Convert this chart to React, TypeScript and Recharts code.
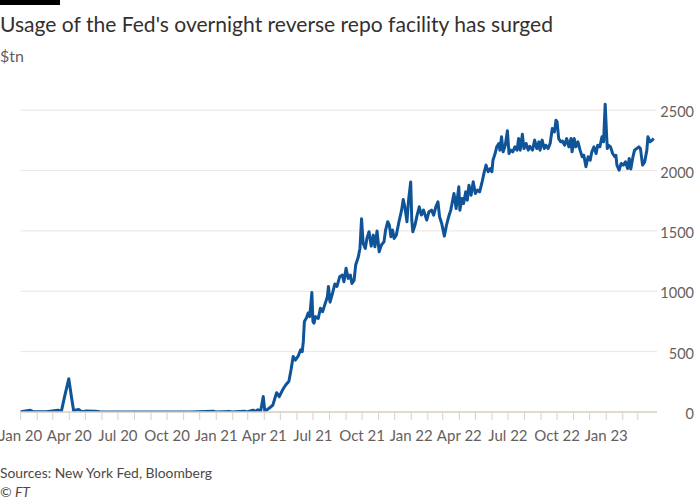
import React from "react";
import { LineChart, Line, XAxis, YAxis, CartesianGrid } from "recharts";

const dates: string[] = [
  "2020-01-01","2020-01-19","2020-01-24","2020-02-18","2020-03-11","2020-03-17","2020-03-23","2020-03-31","2020-04-05","2020-04-09",
  "2020-04-19","2020-04-24","2020-05-03","2020-05-19","2020-05-28","2020-07-01","2020-08-15","2020-10-01","2020-11-15","2020-12-26",
  "2020-12-31","2021-01-26","2021-01-30","2021-02-23","2021-02-27","2021-03-11","2021-03-16","2021-03-20","2021-03-25","2021-03-30",
  "2021-04-02","2021-04-11","2021-04-17","2021-04-24","2021-04-29","2021-05-05","2021-05-11","2021-05-17","2021-05-21","2021-05-25",
  "2021-05-29","2021-06-03","2021-06-08","2021-06-11","2021-06-13","2021-06-15","2021-06-19","2021-06-22","2021-06-25","2021-06-29",
  "2021-07-01","2021-07-03","2021-07-06","2021-07-11","2021-07-15","2021-07-19","2021-07-23","2021-07-28","2021-07-30","2021-08-02",
  "2021-08-07","2021-08-11","2021-08-15","2021-08-20","2021-08-25","2021-08-28","2021-09-01","2021-09-05","2021-09-09","2021-09-12",
  "2021-09-16","2021-09-19","2021-09-24","2021-09-27","2021-09-30","2021-10-03","2021-10-07","2021-10-10","2021-10-14","2021-10-18",
  "2021-10-22","2021-10-25","2021-10-29","2021-11-02","2021-11-06","2021-11-11","2021-11-14","2021-11-18","2021-11-21","2021-11-24",
  "2021-11-27","2021-11-30","2021-12-04","2021-12-09","2021-12-14","2021-12-17","2021-12-20","2021-12-24","2021-12-27","2021-12-31",
  "2022-01-02","2022-01-04","2022-01-08","2022-01-12","2022-01-16","2022-01-20","2022-01-24","2022-01-30","2022-02-03","2022-02-08",
  "2022-02-12","2022-02-16","2022-02-20","2022-02-23","2022-02-27","2022-03-04","2022-03-08","2022-03-12","2022-03-16","2022-03-19",
  "2022-03-22","2022-03-26","2022-03-31","2022-04-02","2022-04-06","2022-04-09","2022-04-13","2022-04-16","2022-04-19","2022-04-23",
  "2022-04-27","2022-05-01","2022-05-05","2022-05-09","2022-05-13","2022-05-17","2022-05-21","2022-05-25","2022-05-29","2022-06-01",
  "2022-06-03","2022-06-07","2022-06-10","2022-06-14","2022-06-16","2022-06-19","2022-06-22","2022-06-26","2022-06-30","2022-07-03",
  "2022-07-06","2022-07-10","2022-07-14","2022-07-18","2022-07-21","2022-07-24","2022-07-28","2022-07-31","2022-08-04","2022-08-08",
  "2022-08-11","2022-08-16","2022-08-20","2022-08-24","2022-08-28","2022-08-30","2022-09-03","2022-09-07","2022-09-10","2022-09-14",
  "2022-09-18","2022-09-22","2022-09-26","2022-09-29","2022-10-01","2022-10-04","2022-10-08","2022-10-11","2022-10-15","2022-10-19",
  "2022-10-23","2022-10-27","2022-10-29","2022-11-02","2022-11-05","2022-11-09","2022-11-13","2022-11-17","2022-11-20","2022-11-24",
  "2022-11-28","2022-12-02","2022-12-05","2022-12-09","2022-12-13","2022-12-16","2022-12-20","2022-12-24","2022-12-27","2022-12-30",
  "2023-01-02","2023-01-03","2023-01-05","2023-01-09","2023-01-13","2023-01-17","2023-01-19","2023-01-21","2023-01-25","2023-01-29",
  "2023-02-02","2023-02-06","2023-02-10","2023-02-13","2023-02-16","2023-02-20","2023-02-23","2023-02-27","2023-03-03","2023-03-06",
  "2023-03-10","2023-03-14","2023-03-18","2023-03-20","2023-03-24","2023-03-28","2023-03-31"
];

const values: number[] = [
  2,14,3,3,15,3,125,275,125,12,
  20,3,8,7,2,1,0,1,0,7,
  1,5,1,6,1,15,6,18,4,128,
  5,35,58,160,127,182,224,255,350,460,
  430,460,515,500,585,750,780,820,790,990,
  750,735,790,775,860,830,885,955,1040,910,
  990,1060,1040,1120,1134,1079,1190,1107,1134,1065,
  1090,1217,1286,1355,1600,1397,1355,1438,1493,1374,
  1465,1368,1500,1327,1382,1410,1507,1576,1548,1452,
  1507,1438,1465,1576,1672,1760,1700,1576,1755,1905,
  1590,1493,1548,1631,1700,1631,1672,1590,1658,1672,
  1630,1700,1741,1617,1562,1457,1548,1617,1672,1741,
  1810,1686,1865,1672,1769,1727,1824,1755,1879,1796,
  1907,1810,1838,1824,1893,1976,2045,1990,2017,1990,
  2086,2141,2196,2224,2169,2279,2155,2210,2329,2141,
  2169,2155,2196,2169,2265,2169,2301,2182,2224,2169,
  2200,2169,2252,2182,2238,2169,2252,2182,2210,2182,
  2224,2348,2320,2417,2403,2265,2238,2245,2210,2265,
  2196,2265,2155,2265,2196,2238,2169,2114,2127,2031,
  2114,2086,2155,2196,2141,2210,2196,2279,2238,2550,
  2265,2182,2210,2196,2141,2114,2127,2045,2003,2058,
  2045,2072,2017,2100,2012,2114,2169,2182,2196,2182,
  2045,2072,2169,2279,2238,2252,2265
];

const quarterLabels: string[] = [
  "Jan 20","Apr 20","Jul 20","Oct 20","Jan 21","Apr 21","Jul 21","Oct 21","Jan 22","Apr 22","Jul 22","Oct 22","Jan 23"
];
const yTicks: number[] = [0, 500, 1000, 1500, 2000, 2500];

const domainStart = "2020-01-01";
const domainEnd = "2023-04-06";

const data = dates.map((d, i) => ({ t: Date.parse(d), v: values[i] }));

const monthTicks: number[] = [];
for (let y = 2020; y <= 2023; y++) {
  for (let m = 0; m < 12; m++) {
    if (y === 2023 && m > 2) break;
    monthTicks.push(Date.UTC(y, m, 1));
  }
}

const FONT = "Lato, 'Noto Sans', sans-serif";
const GREY = "#66605c";

const xFormatter = (t: number) => {
  const d = new Date(t);
  const m = d.getUTCMonth();
  if (m % 3 !== 0) return "";
  const idx = (d.getUTCFullYear() - 2020) * 4 + m / 3;
  return quarterLabels[idx] ?? "";
};

const YTick = (props: any) => {
  const { x, y, payload } = props;
  return (
    <text x={x + 29} y={y + 1.5} textAnchor="end" dominantBaseline="central" fill={GREY} fontSize={14.5} fontFamily={FONT}>
      {payload.value}
    </text>
  );
};

export default function App() {
  return (
    <div style={{ position: "absolute", left: 0, top: 0, width: 700, height: 500, background: "#ffffff", fontFamily: FONT }}>
      <LineChart width={700} height={500} data={data} margin={{ top: 80, right: 3, bottom: 58, left: 20.7 }}>
        <CartesianGrid vertical={false} stroke="#ece5df" horizontalValues={yTicks} syncWithTicks />
        <XAxis
          dataKey="t"
          type="number"
          scale="time"
          domain={[Date.parse(domainStart), Date.parse(domainEnd)]}
          ticks={monthTicks}
          interval={0}
          tickFormatter={xFormatter}
          tickSize={8}
          tickMargin={10}
          height={30}
          axisLine={{ stroke: "#d8d0c9", strokeWidth: 1.5 }}
          tickLine={{ stroke: "#d8d0c9" }}
          tick={{ fill: GREY, fontSize: 15, fontFamily: FONT }}
        />
        <YAxis
          orientation="right"
          domain={[0, 2750]}
          ticks={yTicks}
          allowDataOverflow
          axisLine={false}
          tickLine={false}
          width={40}
          tick={<YTick />}
        />
        <Line
          type="linear"
          dataKey="v"
          stroke="#0f5499"
          strokeWidth={3}
          dot={false}
          strokeLinejoin="round"
          isAnimationActive={false}
        />
      </LineChart>
      <svg width={700} height={500} style={{ position: "absolute", left: 0, top: 0, pointerEvents: "none" }}>
        <rect x={0} y={0} width={60} height={5} fill="#000000" />
        <text x={0} y={32} fontSize={21} fill="#33302e" fontFamily={FONT} textLength={553} lengthAdjust="spacingAndGlyphs">
          Usage of the Fed's overnight reverse repo facility has surged
        </text>
        <text x={0} y={62} fontSize={16} fill={GREY} fontFamily={FONT}>$tn</text>
        <text x={0} y={478} fontSize={14} fill="#4d4845" fontFamily={FONT} textLength={212} lengthAdjust="spacingAndGlyphs">
          Sources: New York Fed, Bloomberg
        </text>
        <text x={0} y={497} fontSize={14} fill="#4d4845" fontFamily={FONT} fontStyle="italic">© FT</text>
      </svg>
    </div>
  );
}
